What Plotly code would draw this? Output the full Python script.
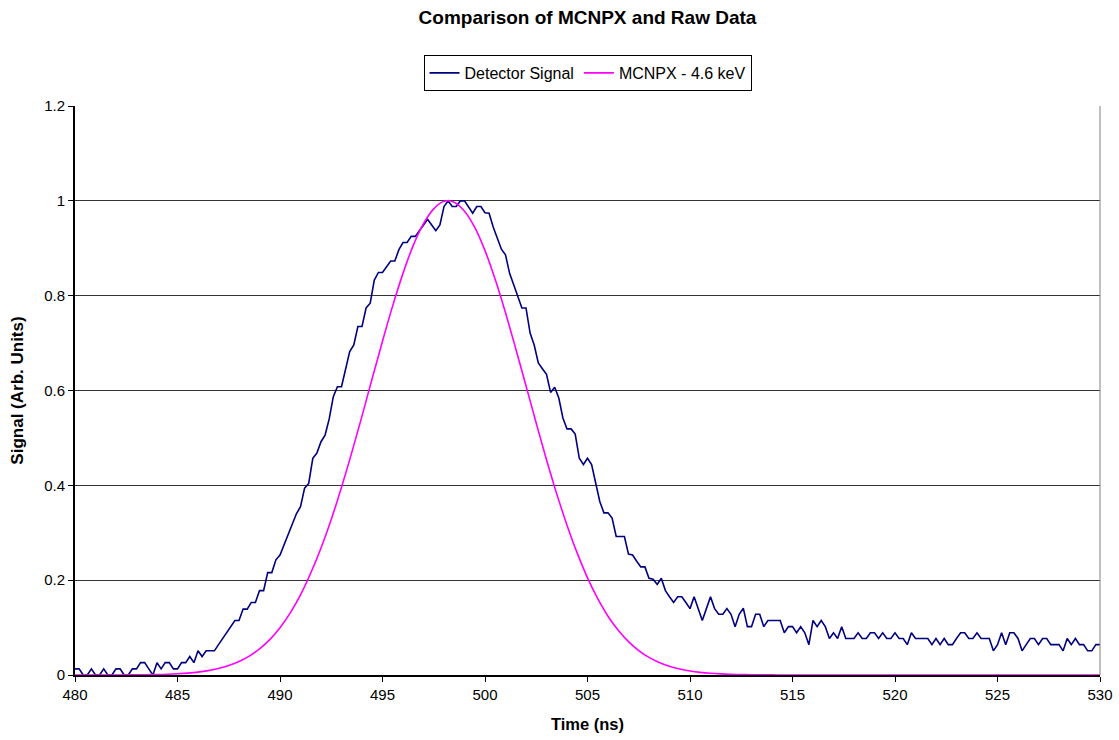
import plotly.graph_objects as go

# ---- Data ----
det_start, det_step = 480.0, 0.2
detector_signal = [
    0.013, 0.013, 0, 0, 0.013, 0, 0, 0.013, 0, 0,
    0.013, 0.013, 0, 0, 0.013, 0.013, 0.026, 0.026, 0.013, 0,
    0.026, 0.013, 0.026, 0.026, 0.013, 0.013, 0.026, 0.026, 0.039, 0.026,
    0.051, 0.039, 0.051, 0.051, 0.051, 0.064, 0.077, 0.089, 0.102, 0.115,
    0.115, 0.139, 0.139, 0.153, 0.153, 0.178, 0.178, 0.216, 0.216, 0.243,
    0.253, 0.275, 0.300, 0.320, 0.340, 0.355, 0.394, 0.404, 0.457, 0.468,
    0.492, 0.506, 0.540, 0.587, 0.608, 0.608, 0.645, 0.682, 0.696, 0.735,
    0.735, 0.774, 0.784, 0.833, 0.849, 0.849, 0.861, 0.873, 0.873, 0.897,
    0.912, 0.912, 0.925, 0.925, 0.937, 0.949, 0.961, 0.949, 0.937, 0.949,
    0.988, 1.000, 0.988, 0.988, 1.000, 1.000, 0.987, 0.974, 0.988, 0.988,
    0.975, 0.974, 0.945, 0.920, 0.898, 0.886, 0.847, 0.823, 0.800, 0.774,
    0.774, 0.721, 0.696, 0.658, 0.646, 0.634, 0.596, 0.607, 0.584, 0.542,
    0.519, 0.519, 0.508, 0.457, 0.444, 0.457, 0.444, 0.401, 0.366, 0.342,
    0.342, 0.331, 0.292, 0.292, 0.292, 0.255, 0.253, 0.240, 0.228, 0.228,
    0.204, 0.202, 0.191, 0.204, 0.178, 0.165, 0.153, 0.165, 0.165, 0.153,
    0.140, 0.165, 0.140, 0.115, 0.140, 0.165, 0.140, 0.128, 0.128, 0.140,
    0.128, 0.102, 0.128, 0.141, 0.102, 0.102, 0.128, 0.128, 0.102, 0.115,
    0.115, 0.115, 0.115, 0.089, 0.102, 0.102, 0.089, 0.102, 0.089, 0.064,
    0.115, 0.102, 0.115, 0.102, 0.077, 0.089, 0.077, 0.102, 0.077, 0.077,
    0.077, 0.089, 0.077, 0.077, 0.089, 0.089, 0.077, 0.089, 0.077, 0.077,
    0.089, 0.077, 0.077, 0.064, 0.089, 0.077, 0.077, 0.077, 0.077, 0.064,
    0.077, 0.064, 0.077, 0.064, 0.064, 0.077, 0.089, 0.089, 0.077, 0.077,
    0.089, 0.077, 0.077, 0.077, 0.051, 0.064, 0.089, 0.064, 0.089, 0.089,
    0.077, 0.051, 0.064, 0.077, 0.077, 0.064, 0.077, 0.077, 0.064, 0.064,
    0.064, 0.051, 0.077, 0.064, 0.077, 0.064, 0.064, 0.051, 0.051, 0.064,
    0.064,
]

mc_start, mc_step = 480.0, 0.5
mcnpx_signal = [
    0, 0, 0.00004, 0.00007, 0.0001, 0.0002, 0.0004, 0.0006, 0.001, 0.0016,
    0.0026, 0.004, 0.0061, 0.0092, 0.0136, 0.0198, 0.0283, 0.0398, 0.055, 0.0747,
    0.0998, 0.131, 0.169, 0.215, 0.268, 0.328, 0.396, 0.469, 0.546, 0.626,
    0.704, 0.779, 0.847, 0.906, 0.952, 0.983, 0.999, 0.997, 0.978, 0.944,
    0.895, 0.834, 0.764, 0.688, 0.610, 0.531, 0.454, 0.382, 0.316, 0.257,
    0.205, 0.161, 0.124, 0.0943, 0.0704, 0.0516, 0.0372, 0.0264, 0.0184, 0.0126,
    0.0085, 0.0056, 0.0036, 0.0023, 0.0015, 0.0009, 0.0006, 0.0003, 0.0002, 0.0001,
    0.0001, 0, 0, 0, 0, 0, 0, 0, 0, 0,
    0, 0, 0, 0, 0, 0, 0, 0, 0, 0,
    0, 0, 0, 0, 0, 0, 0, 0, 0, 0,
    0,
]

x_ticks = [480, 485, 490, 495, 500, 505, 510, 515, 520, 525, 530]
y_ticks = [0, 0.2, 0.4, 0.6, 0.8, 1.0, 1.2]
y_tick_labels = ["0", "0.2", "0.4", "0.6", "0.8", "1", "1.2"]

t_det = [round(det_start + det_step * i, 1) for i in range(len(detector_signal))]
t_mc = [round(mc_start + mc_step * i, 1) for i in range(len(mcnpx_signal))]

FONT = "Liberation Sans, Arial, sans-serif"

fig = go.Figure()
fig.add_trace(go.Scatter(x=t_det, y=detector_signal, mode="lines",
                         name="Detector Signal",
                         line=dict(color="#000080", width=1.6)))
fig.add_trace(go.Scatter(x=t_mc, y=mcnpx_signal, mode="lines",
                         name="MCNPX - 4.6 keV",
                         line=dict(color="#FF00FF", width=1.6, shape="spline")))

fig.update_layout(
    width=1119, height=740,
    paper_bgcolor="white", plot_bgcolor="white",
    margin=dict(l=75, r=19, t=106, b=65, autoexpand=False),
    font=dict(family=FONT, size=15, color="black"),
    title=dict(text="<b>Comparison of MCNPX and Raw Data</b>",
               x=(75 + 1100) / 2 / 1119, xanchor="center", y=1 - 17 / 740, yanchor="middle",
               font=dict(family=FONT, size=19, color="black")),
    legend=dict(orientation="h", x=0.5, xanchor="center",
                y=1 + 51 / 569, yanchor="top",
                bordercolor="black", borderwidth=1,
                font=dict(family=FONT, size=16, color="black"),
                bgcolor="white", itemwidth=30),
    showlegend=True,
)

fig.update_xaxes(
    range=[480, 530], tickvals=x_ticks, ticktext=[str(v) for v in x_ticks],
    showgrid=False, zeroline=False, automargin=False,
    showline=True, linecolor="black", linewidth=2, mirror=False,
    ticks="outside", ticklen=5, tickcolor="black",
    title=dict(text="<b>Time (ns)</b>", font=dict(family=FONT, size=16.5), standoff=16),
)
fig.update_yaxes(
    range=[0, 1.2], tickvals=y_ticks, ticktext=y_tick_labels,
    showgrid=True, gridcolor="#333333", gridwidth=1, zeroline=False, automargin=False,
    showline=True, linecolor="black", linewidth=2,
    ticks="outside", ticklen=5, tickcolor="black",
    title=dict(text="<b>Signal (Arb. Units)</b>", font=dict(family=FONT, size=17), standoff=16),
)

# right border of plot area
fig.add_shape(type="line", xref="paper", yref="paper", x0=1, x1=1, y0=0, y1=1,
              line=dict(color="#808080", width=1))

fig.write_html("out.html")
